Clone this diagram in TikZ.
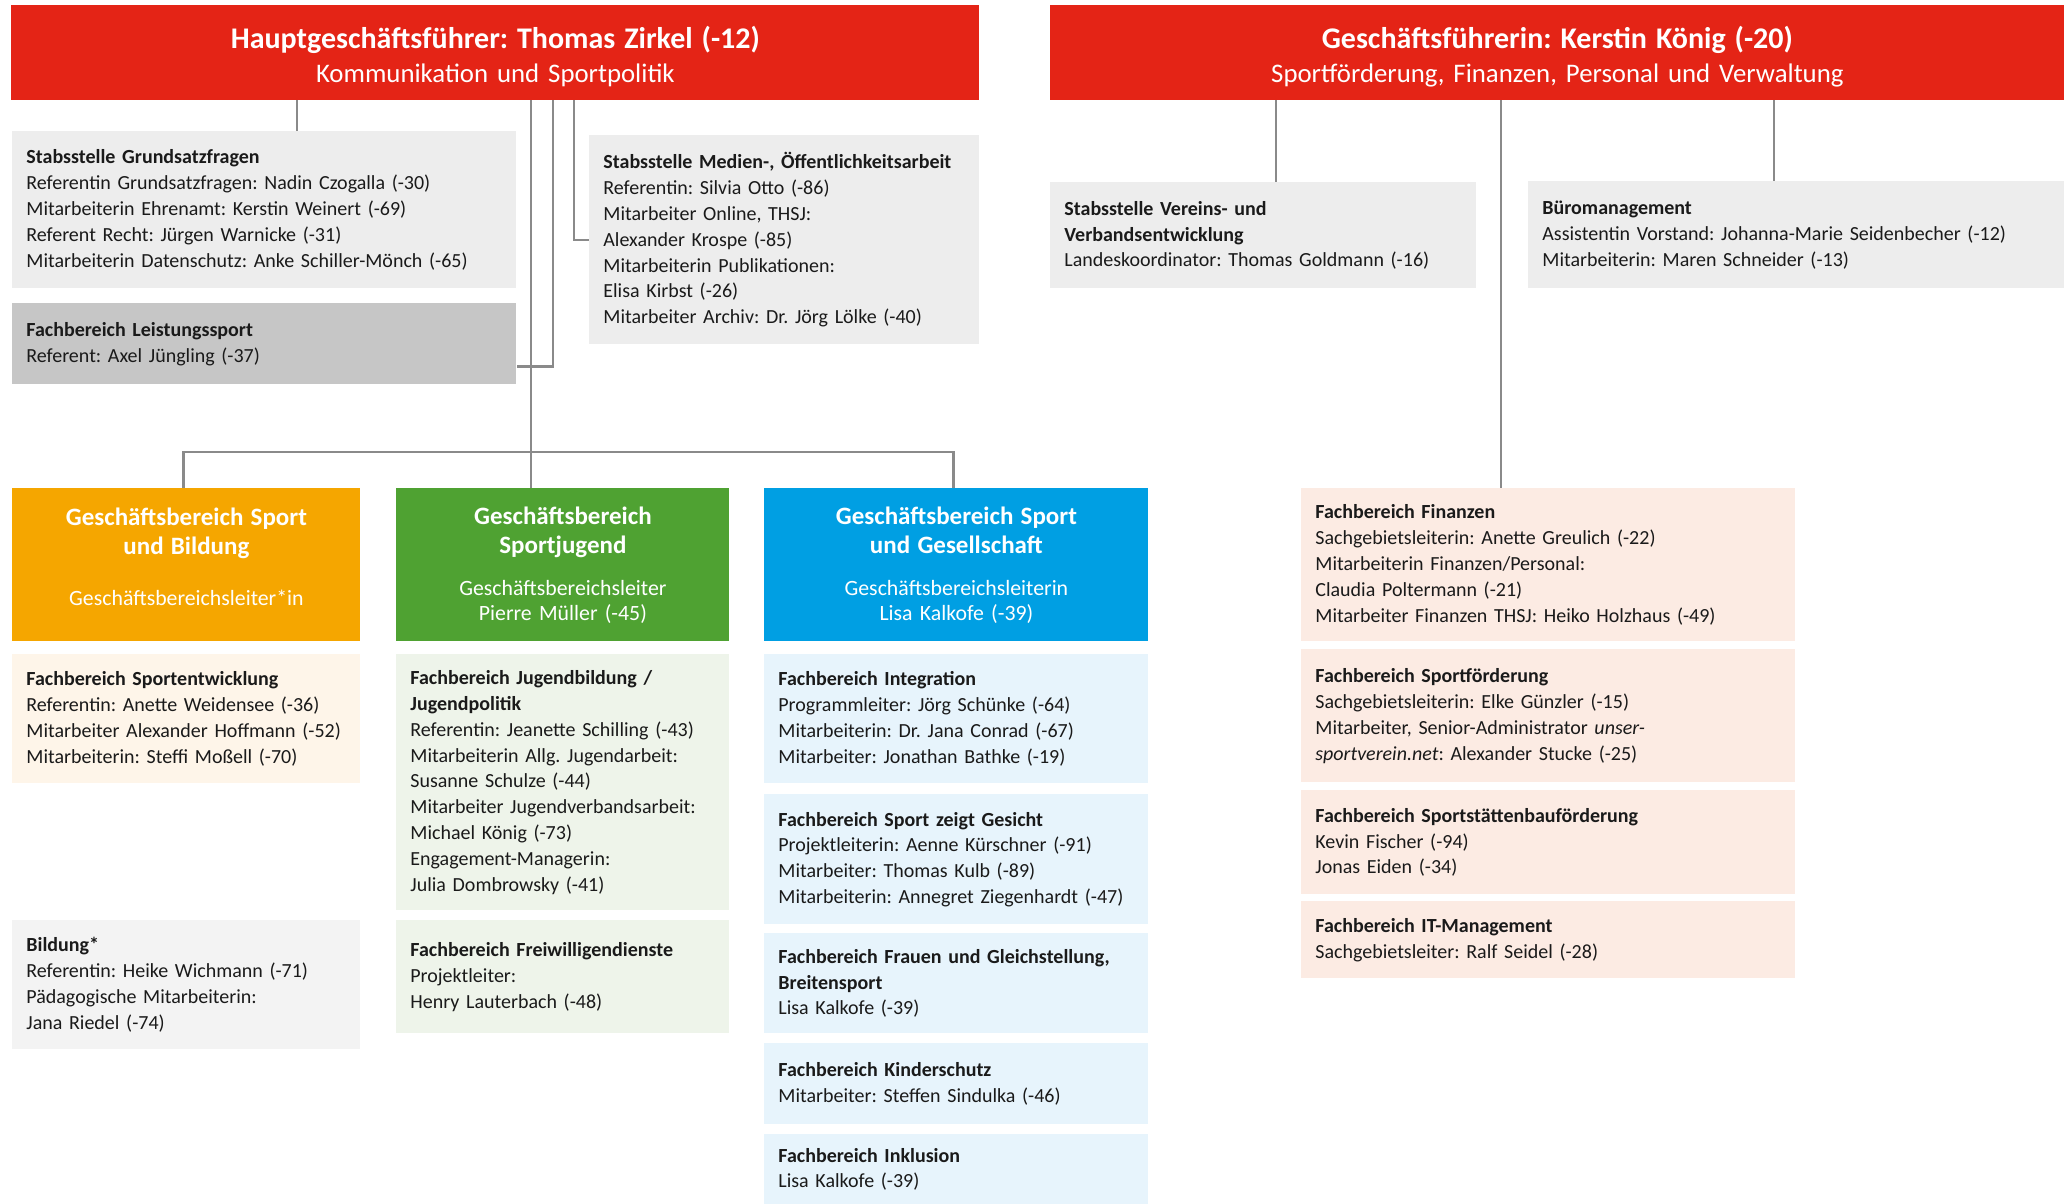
\documentclass[tikz,border=0pt]{standalone}
\usepackage{fontspec}
\setmainfont{Carlito}
\frenchspacing

\definecolor{dsbred}{HTML}{E42416}
\definecolor{conngray}{HTML}{8A8A8A}
\definecolor{boxgray}{HTML}{EDEDED}
\definecolor{lsgray}{HTML}{C6C6C6}
\definecolor{sbgold}{HTML}{F5A600}
\definecolor{sjgreen}{HTML}{4FA232}
\definecolor{sgblue}{HTML}{009FE3}
\definecolor{sblight}{HTML}{FEF5E9}
\definecolor{bigray}{HTML}{F3F3F3}
\definecolor{sjlight}{HTML}{EEF4EA}
\definecolor{sglight}{HTML}{E7F4FC}
\definecolor{finpink}{HTML}{FCEBE3}
\definecolor{txt}{HTML}{1A1A1A}

\newcommand\bodyfont{\fontsize{10}{12.9}\selectfont}
\newcommand\headtitle{\fontsize{15}{17}\selectfont\bfseries}
\newcommand\headsub{\fontsize{13.4}{17}\selectfont}
\newcommand\unittitle{\fontsize{12.5}{14.5}\selectfont\bfseries}
\newcommand\unitsub{\fontsize{10.9}{12.5}\selectfont}

\tikzset{
  conn/.style={draw=conngray, line width=1.25pt},
  head/.style={anchor=north west, fill=dsbred, text=white, align=center,
    inner sep=0pt, minimum height=47.5pt, font=\headsub},
  unit/.style={anchor=north west, text=white, align=center, inner xsep=7pt,
    inner ysep=0pt, minimum height=76.5pt, font=\unitsub},
  fachbox/.style={anchor=north west, align=left, inner xsep=7pt, inner ysep=0pt,
    text=txt, font=\bodyfont},
}

\begin{document}
\begin{tikzpicture}[x=0.5pt, y=-0.5pt]
    \useasboundingbox (0,0) rectangle (2069,1204);

    \node[head, text width=484pt] (hgf) at (11,5)
        {{\headtitle\rule{0pt}{15pt}Hauptgeschäftsführer: Thomas Zirkel (-12)\par}Kommunikation und Sportpolitik};
    \node[head, text width=507pt] (gf) at (1050,5)
        {{\headtitle\rule{0pt}{15pt}Geschäftsführerin: Kerstin König (-20)\par}Sportförderung, Finanzen, Personal und Verwaltung};

    \node[fachbox, fill=boxgray, text width=238pt, minimum height=78.5pt] (gs) at (12,131)
        {\textbf{Stabsstelle Grundsatzfragen}\\
         Referentin Grundsatzfragen: Nadin Czogalla (-30)\\
         Mitarbeiterin Ehrenamt: Kerstin Weinert (-69)\\
         Referent Recht: Jürgen Warnicke (-31)\\
         Mitarbeiterin Datenschutz: Anke Schiller-Mönch (-65)};
    \node[fachbox, fill=lsgray, text width=238pt, minimum height=40.5pt] (ls) at (12,303)
        {\textbf{Fachbereich Leistungssport}\\
         Referent: Axel Jüngling (-37)};
    \node[fachbox, fill=boxgray, text width=181pt, minimum height=104.5pt] (md) at (589,135)
        {\textbf{Stabsstelle Medien-, Öffentlichkeitsarbeit}\\
         Referentin: Silvia Otto (-86)\\
         Mitarbeiter Online, THSJ:\\
         Alexander Krospe (-85)\\
         Mitarbeiterin Publikationen:\\
         Elisa Kirbst (-26)\\
         Mitarbeiter Archiv: Dr. Jörg Lölke (-40)};
    \node[fachbox, fill=boxgray, text width=199pt, minimum height=53pt] (vv) at (1050,182)
        {\textbf{Stabsstelle Vereins- und}\\
         \textbf{Verbandsentwicklung}\\
         Landeskoordinator: Thomas Goldmann (-16)};
    \node[fachbox, fill=boxgray, text width=254pt, minimum height=53.5pt] (bm) at (1528,181)
        {\textbf{Büromanagement}\\
         Assistentin Vorstand: Johanna-Marie Seidenbecher (-12)\\
         Mitarbeiterin: Maren Schneider (-13)};

    \node[unit, fill=sbgold, text width=160pt] (sb) at (12,488)
        {{\unittitle Geschäftsbereich Sport\\und Bildung\par}\vspace{13pt}Geschäftsbereichsleiter*in\\[-4.5pt]\mbox{}};
    \node[unit, fill=sjgreen, text width=152.5pt] (sj) at (396,488)
        {{\unittitle Geschäftsbereich\\Sportjugend\par}\vspace{8.5pt}Geschäftsbereichsleiter\\Pierre Müller (-45)};
    \node[unit, fill=sgblue, text width=178pt] (sg) at (764,488)
        {{\unittitle Geschäftsbereich Sport\\und Gesellschaft\par}\vspace{8.5pt}Geschäftsbereichsleiterin\\Lisa Kalkofe (-39)};

    \node[fachbox, fill=sblight, text width=160pt, minimum height=64.5pt] (se) at (12,654)
        {\textbf{Fachbereich Sportentwicklung}\\
         Referentin: Anette Weidensee (-36)\\
         Mitarbeiter Alexander Hoffmann (-52)\\
         Mitarbeiterin: Steffi Moßell (-70)};
    \node[fachbox, fill=bigray, text width=160pt, minimum height=64.5pt] (bi) at (12,920)
        {\textbf{Bildung*}\\
         Referentin: Heike Wichmann (-71)\\
         Pädagogische Mitarbeiterin:\\
         Jana Riedel (-74)};

    \node[fachbox, fill=sjlight, text width=152.5pt, minimum height=128pt] (jb) at (396,654)
        {\textbf{Fachbereich Jugendbildung /}\\
         \textbf{Jugendpolitik}\\
         Referentin: Jeanette Schilling (-43)\\
         Mitarbeiterin Allg. Jugendarbeit:\\
         Susanne Schulze (-44)\\
         Mitarbeiter Jugendverbandsarbeit:\\
         Michael König (-73)\\
         Engagement-Managerin:\\
         Julia Dombrowsky (-41)};
    \node[fachbox, fill=sjlight, text width=152.5pt, minimum height=56.5pt] (fw) at (396,920)
        {\textbf{Fachbereich Freiwilligendienste}\\
         Projektleiter:\\
         Henry Lauterbach (-48)};

    \node[fachbox, fill=sglight, text width=178pt, minimum height=64.5pt] (ig) at (764,654)
        {\textbf{Fachbereich Integration}\\
         Programmleiter: Jörg Schünke (-64)\\
         Mitarbeiterin: Dr. Jana Conrad (-67)\\
         Mitarbeiter: Jonathan Bathke (-19)};
    \node[fachbox, fill=sglight, text width=178pt, minimum height=65pt] (szg) at (764,794)
        {\textbf{Fachbereich Sport zeigt Gesicht}\\
         Projektleiterin: Aenne Kürschner (-91)\\
         Mitarbeiter: Thomas Kulb (-89)\\
         Mitarbeiterin: Annegret Ziegenhardt (-47)};
    \node[fachbox, fill=sglight, text width=178pt, minimum height=50pt] (fg) at (764,933)
        {\textbf{Fachbereich Frauen und Gleichstellung,}\\
         \textbf{Breitensport}\\
         Lisa Kalkofe (-39)};
    \node[fachbox, fill=sglight, text width=178pt, minimum height=40.5pt] (ks) at (764,1043)
        {\textbf{Fachbereich Kinderschutz}\\
         Mitarbeiter: Steffen Sindulka (-46)};
    \node[fachbox, fill=sglight, text width=178pt, minimum height=35pt] (ik) at (764,1134)
        {\textbf{Fachbereich Inklusion}\\
         Lisa Kalkofe (-39)};

    \node[fachbox, fill=finpink, text width=233pt, minimum height=76.5pt] (fin) at (1301,488)
        {\textbf{Fachbereich Finanzen}\\
         Sachgebietsleiterin: Anette Greulich (-22)\\
         Mitarbeiterin Finanzen/Personal:\\
         Claudia Poltermann (-21)\\
         Mitarbeiter Finanzen THSJ: Heiko Holzhaus (-49)};
    \node[fachbox, fill=finpink, text width=233pt, minimum height=66.5pt] (sf) at (1301,649)
        {\textbf{Fachbereich Sportförderung}\\
         Sachgebietsleiterin: Elke Günzler (-15)\\
         Mitarbeiter, Senior-Administrator \textit{unser-}\\
         \textit{sportverein.net}: Alexander Stucke (-25)};
    \node[fachbox, fill=finpink, text width=233pt, minimum height=52pt] (sst) at (1301,790)
        {\textbf{Fachbereich Sportstättenbauförderung}\\
         Kevin Fischer (-94)\\
         Jonas Eiden (-34)};
    \node[fachbox, fill=finpink, text width=233pt, minimum height=38.5pt] (itm) at (1301,901)
        {\textbf{Fachbereich IT-Management}\\
         Sachgebietsleiter: Ralf Seidel (-28)};

    \coordinate (tgs) at (297,100);
    \coordinate (tbus) at (531,100);
    \coordinate (tls) at (553,100);
    \coordinate (tmd) at (574,100);
    \coordinate (bus) at (531,452);
    \coordinate (tvv) at (1276,100);
    \coordinate (tfin) at (1501,100);
    \coordinate (tbm) at (1774,100);

    \draw[conn] (tgs) -- (tgs |- gs.north);
    \draw[conn] (tbus) -- (tbus |- sj.north);
    \draw[conn] (tls) |- ([yshift=-11.25pt]ls.east);
    \draw[conn] (tmd) |- (md.west);
    \draw[conn] ([xshift=-1.5pt]sb.north) |- (bus) -| ([xshift=-1.5pt]sg.north);
    \draw[conn] (tvv) -- (tvv |- vv.north);
    \draw[conn] (tfin) -- (tfin |- fin.north);
    \draw[conn] (tbm) -- (tbm |- bm.north);
\end{tikzpicture}
\end{document}
